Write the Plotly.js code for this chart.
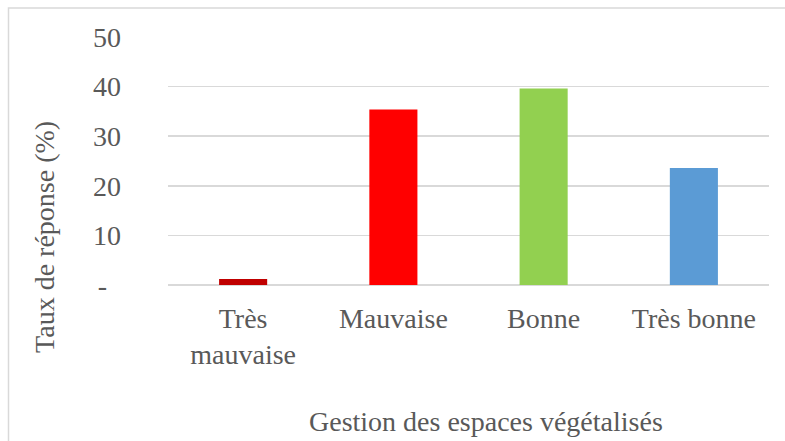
<!DOCTYPE html>
<html>
<head>
<meta charset="utf-8">
<script src="https://cdn.plot.ly/plotly-3.0.1.min.js"></script>
<style>
html,body{margin:0;padding:0;background:#fff;}
#chart{width:785px;height:441px;}
</style>
</head>
<body>
<div id="chart"></div>
<script>
const categories = ["Très mauvaise", "Mauvaise", "Bonne", "Très bonne"];
const categoryLabels = ["Très<br>mauvaise", "Mauvaise", "Bonne", "Très bonne"];
const values = [1.2, 35.4, 39.6, 23.6];
const barColors = ["#C00000", "#FF0000", "#92D050", "#5B9BD5"];
const yTickVals = [0, 10, 20, 30, 40, 50];
const yTickText = ["-\u00a0\u00a0", "10", "20", "30", "40", "50"];
const yTitle = "Taux de réponse (%)";
const xTitle = "Gestion des espaces végétalisés";

function mkFont() {
  return {family: "Liberation Serif", size: 28, color: "#595959"};
}

const trace = {
  type: "bar",
  x: categories,
  y: values,
  marker: {color: barColors},
  hoverinfo: "none"
};

const layout = {
  width: 785, height: 441,
  margin: {l: 168, r: 16, t: 37, b: 156, pad: 0},
  paper_bgcolor: "#fff",
  plot_bgcolor: "#fff",
  showlegend: false,
  bargap: 0.68,
  font: mkFont(),
  xaxis: {
    type: "category",
    tickvals: categories,
    ticktext: categoryLabels,
    showgrid: false,
    showline: false,
    zeroline: false,
    ticks: "",
    ticklabelstandoff: 14,
    tickfont: mkFont()
  },
  yaxis: {
    range: [0, 50],
    tickvals: yTickVals,
    ticktext: yTickText,
    showgrid: true,
    gridcolor: "#d9d9d9",
    gridwidth: 1.5,
    zeroline: true,
    zerolinecolor: "#d9d9d9",
    zerolinewidth: 1.5,
    showline: false,
    ticks: "",
    ticklabelstandoff: 46,
    tickfont: mkFont()
  },
  annotations: [
    {
      text: yTitle, textangle: -90,
      xref: "paper", yref: "paper",
      x: (45 - 168) / 601, y: (285 - 237) / 247.5,
      xanchor: "center", yanchor: "middle",
      showarrow: false, font: mkFont()
    },
    {
      text: xTitle,
      xref: "paper", yref: "paper",
      x: (486 - 168) / 601, y: (285 - 421) / 247.5,
      xanchor: "center", yanchor: "middle",
      showarrow: false, font: mkFont()
    }
  ],
  shapes: [
    {
      type: "rect", xref: "paper", yref: "paper",
      x0: (8.5 - 168) / 601, x1: (800 - 168) / 601,
      y0: (285 - 460) / 247.5, y1: (285 - 8.5) / 247.5,
      line: {color: "#d9d9d9", width: 1.5},
      fillcolor: "rgba(0,0,0,0)",
      layer: "below"
    }
  ]
};

Plotly.newPlot("chart", [trace], layout, {displayModeBar: false, staticPlot: true});
</script>
</body>
</html>
